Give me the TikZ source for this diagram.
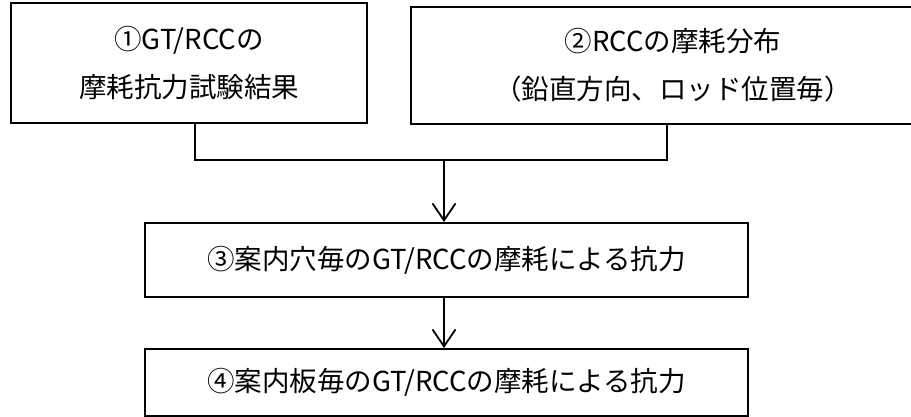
\documentclass[tikz,border=0pt]{standalone}
\usepackage{fontspec}
\setmainfont{Noto Sans CJK JP}
\usetikzlibrary{arrows.meta}

\begin{document}
\begin{tikzpicture}[
    x=10pt,y=10pt,
    flow box/.style={
        draw,
        line width=2pt,
        inner sep=0pt,
        align=center,
        font=\fontsize{27.5pt}{48pt}\selectfont
    },
    flow line/.style={
        line width=1.8pt
    },
    flow arrow/.style={
        line width=1.8pt,
        -{Straight Barb[length=17pt,width=23pt,line width=1.8pt]}
    }
]
\useasboundingbox (0,0) rectangle (91.1,-41.7);

\node[flow box, minimum width=356pt, minimum height=120pt] (res) at (18.9,-6.3)
    {①GT/RCCの\\摩耗抗力試験結果};
\node[flow box, minimum width=524pt, minimum height=117pt] (dist) at (67.3,-6.55)
    {②RCCの摩耗分布\\（鉛直方向、ロッド位置毎）};
\node[flow box, minimum width=603pt, minimum height=74pt] (hole) at (44.65,-26)
    {③案内穴毎のGT/RCCの摩耗による抗力};
\node[flow box, minimum width=603pt, minimum height=67pt] (plate) at (44.65,-38.25)
    {④案内板毎のGT/RCCの摩耗による抗力};

\coordinate (jl) at (19.5,-16);
\coordinate (jr) at (66.7,-16);
\coordinate (jm) at (44.4,-16);

\draw[flow line] (res.south -| jl) -- (jl) -- (jr) -- (dist.south -| jr);
\draw[flow arrow] (jm) -- (hole.north -| jm);
\draw[flow arrow] (hole.south -| jm) -- (plate.north -| jm);

\end{tikzpicture}
\end{document}
